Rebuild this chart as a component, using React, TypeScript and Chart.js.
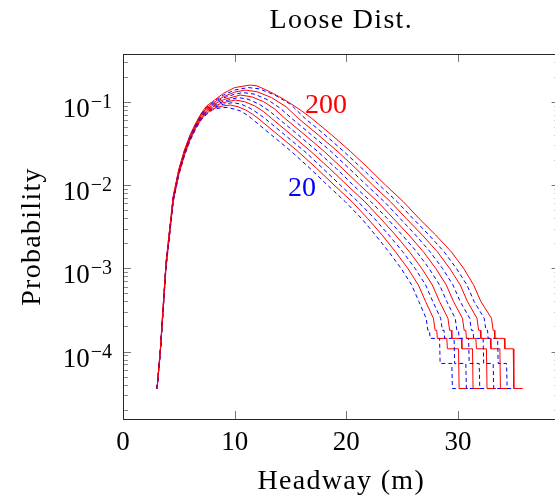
import { useEffect, useRef } from 'react';
import { Chart, registerables } from 'chart.js';

Chart.register(...registerables);

// ---- data ----
const SIZES = [20, 40, 60, 80, 100, 120, 140, 160, 180, 200];

const RISE_X = [3.05, 3.35, 3.85, 4.5, 5, 5.5, 6, 6.5, 7, 7.5, 8, 8.5];
const RISE_Y = [
  [3.6e-5, 1.0e-4, 1.0e-3, 6.31e-3, 0.0132, 0.0224, 0.0339, 0.0468, 0.0603, 0.0708, 0.0794, 0.0832],
  [3.6e-5, 1.01e-4, 1.02e-3, 6.42e-3, 0.0134, 0.0228, 0.0345, 0.0476, 0.0616, 0.0726, 0.0815, 0.086],
  [3.6e-5, 1.02e-4, 1.04e-3, 6.54e-3, 0.0137, 0.0232, 0.0351, 0.0485, 0.0628, 0.0746, 0.0836, 0.0889],
  [3.6e-5, 1.03e-4, 1.06e-3, 6.66e-3, 0.0139, 0.0236, 0.0358, 0.0494, 0.0641, 0.0765, 0.0858, 0.092],
  [3.6e-5, 1.04e-4, 1.07e-3, 6.78e-3, 0.0142, 0.0241, 0.0364, 0.0503, 0.0654, 0.0784, 0.088, 0.0951],
  [3.6e-5, 1.05e-4, 1.09e-3, 6.9e-3, 0.0144, 0.0245, 0.0371, 0.0512, 0.0668, 0.0805, 0.0903, 0.0983],
  [3.6e-5, 1.06e-4, 1.11e-3, 7.02e-3, 0.0147, 0.0249, 0.0377, 0.0521, 0.0682, 0.0826, 0.0926, 0.1017],
  [3.6e-5, 1.07e-4, 1.13e-3, 7.15e-3, 0.015, 0.0254, 0.0384, 0.053, 0.0696, 0.0847, 0.095, 0.1052],
  [3.6e-5, 1.09e-4, 1.15e-3, 7.28e-3, 0.0152, 0.0258, 0.0391, 0.054, 0.071, 0.0869, 0.0975, 0.1087],
  [3.6e-5, 1.1e-4, 1.17e-3, 7.41e-3, 0.0155, 0.0263, 0.0398, 0.0549, 0.0725, 0.0892, 0.1, 0.1124],
];

const PEAK_X = [
  [9.0, 9.4, 10.0, 10.5, 11.0],
  [9.0, 9.6, 10.3, 11.0, 11.6],
  [9.0, 9.85, 10.6, 11.4, 12.1],
  [9.0, 10.05, 10.9, 11.8, 12.6],
  [9.0, 10.3, 11.2, 12.2, 13.1],
  [9.0, 10.5, 11.5, 12.6, 13.6],
  [9.0, 10.0, 10.75, 11.8, 13.0, 14.1],
  [9.0, 10.0, 10.95, 12.0, 13.3, 14.6],
  [9.0, 10.0, 11.2, 12.2, 13.6, 15.0],
  [9.0, 10.0, 11.4, 12.0, 13.0, 14.0, 15.0, 16.0],
];
const PEAK_Y = [
  [0.0851, 0.0851, 0.0813, 0.0776, 0.0708],
  [0.0891, 0.0912, 0.0871, 0.0794, 0.0708],
  [0.0933, 0.0977, 0.0933, 0.0832, 0.0724],
  [0.0977, 0.1047, 0.1, 0.0891, 0.0759],
  [0.1012, 0.1122, 0.1072, 0.0933, 0.0776],
  [0.1059, 0.1202, 0.1148, 0.1, 0.0813],
  [0.1109, 0.123, 0.1288, 0.123, 0.1047, 0.0832],
  [0.1148, 0.1303, 0.138, 0.1318, 0.1122, 0.0871],
  [0.1202, 0.138, 0.1479, 0.1429, 0.1202, 0.0933],
  [0.1259, 0.1479, 0.1585, 0.1549, 0.1349, 0.1148, 0.0955, 0.0776],
];

const DESC_LEVELS = [0.0631, 0.0398, 0.0251, 0.0158, 0.01, 0.00631, 0.00398, 0.00251, 0.00158, 0.001, 6.31e-4, 3.98e-4, 2.51e-4];
const DESC_X = [
  [11.5, 13.3, 15.1, 16.75, 18.3, 19.9, 21.35, 22.6, 23.8, 24.9, 25.85, 26.5, 27.15],
  [12.1, 13.9, 15.7, 17.35, 18.9, 20.5, 21.9, 23.2, 24.4, 25.5, 26.45, 27.1, 27.8],
  [12.7, 14.5, 16.3, 17.9, 19.45, 21.05, 22.5, 23.8, 25.05, 26.15, 27.1, 27.75, 28.45],
  [13.3, 15.1, 16.85, 18.5, 20.05, 21.65, 23.05, 24.4, 25.65, 26.75, 27.7, 28.35, 29.1],
  [13.9, 15.7, 17.45, 19.1, 20.6, 22.2, 23.65, 25.0, 26.3, 27.4, 28.35, 29.0, 29.75],
  [14.5, 16.3, 18.05, 19.65, 21.2, 22.8, 24.2, 25.6, 26.9, 28.0, 28.95, 29.6, 30.4],
  [15.1, 16.9, 18.65, 20.25, 21.8, 23.4, 24.8, 26.2, 27.5, 28.6, 29.55, 30.2, 31.05],
  [15.7, 17.5, 19.25, 20.85, 22.35, 23.95, 25.35, 26.8, 28.15, 29.25, 30.2, 30.85, 31.7],
  [16.3, 18.1, 19.8, 21.4, 22.95, 24.55, 25.95, 27.4, 28.75, 29.85, 30.8, 31.45, 32.35],
  [16.9, 18.7, 20.4, 22.0, 23.5, 25.1, 26.5, 28.0, 29.4, 30.5, 31.4, 32.05, 33.0],
];

const TAIL_X = [
  [27.3, 27.45, 27.5, 28.35, 28.4, 29.45, 29.5, 30.3],
  [27.95, 28.1, 28.15, 29.0, 29.05, 30.05, 30.1, 30.9],
  [28.6, 28.75, 28.8, 29.65, 29.7, 30.7, 30.75, 31.55],
  [29.25, 29.4, 29.45, 30.3, 30.35, 31.3, 31.35, 32.15],
  [29.9, 30.05, 30.1, 30.95, 31.0, 31.9, 31.95, 32.75],
  [30.55, 30.7, 30.75, 31.6, 31.65, 32.55, 32.6, 33.4],
  [31.2, 31.35, 31.4, 32.25, 32.3, 33.15, 33.2, 34.0],
  [31.85, 32.0, 32.05, 32.9, 32.95, 33.75, 33.8, 34.6],
  [32.5, 32.65, 32.7, 33.55, 33.6, 34.35, 34.4, 35.2],
  [33.15, 33.25, 33.3, 34.15, 34.2, 34.95, 35.0, 35.8],
];
const TAIL_Y_EVEN = [1.8e-4, 1.8e-4, 1.44e-4, 1.44e-4, 7.2e-5, 7.2e-5, 3.6e-5, 3.6e-5];
const TAIL_Y_ODD = [1.8e-4, 1.8e-4, 1.44e-4, 1.44e-4, 1.08e-4, 1.08e-4, 3.6e-5, 3.6e-5];

const X_TICKS = [0, 10, 20, 30];
const Y_TICKS = [1e-4, 1e-3, 1e-2, 1e-1];
const Y_TICK_EXP = ['\u22124', '\u22123', '\u22122', '\u22121'];
const Y_MINOR_MANTISSA = [2, 3, 4, 5, 6, 7, 8, 9];
const Y_MINOR_DECADES = [1e-5, 1e-4, 1e-3, 1e-2, 1e-1];

const CURVE_LABELS = [
  { text: '200', x: 18.18, y: 0.0896, color: '#ff0000' },
  { text: '20', x: 16.03, y: 0.00896, color: '#0000ff' },
];

const TITLE = 'Loose Dist.';
const X_TITLE = 'Headway (m)';
const Y_TITLE = 'Probability';

const W = 565;
const H = 503;
const FONT = '"Liberation Serif", "DejaVu Serif", serif';

const axisPlugin = {
  id: 'pgfAxis',
  afterDatasetsDraw(chart: any) {
    const { ctx, chartArea: a } = chart;
    const xs = chart.scales.x;
    const ys = chart.scales.y;
    ctx.save();
    // minor y ticks
    ctx.strokeStyle = '#8c8c8c';
    ctx.lineWidth = 1;
    ctx.beginPath();
    Y_MINOR_DECADES.forEach((d) => {
      Y_MINOR_MANTISSA.forEach((m) => {
        const v = m * d;
        if (v <= ys.min || v >= ys.max) return;
        const p = Math.round(ys.getPixelForValue(v)) + 0.5;
        ctx.moveTo(a.left, p);
        ctx.lineTo(a.left + 5, p);
        ctx.moveTo(a.right, p);
        ctx.lineTo(a.right - 5, p);
      });
    });
    ctx.stroke();
    // major ticks
    ctx.strokeStyle = '#777';
    ctx.beginPath();
    Y_TICKS.forEach((v) => {
      const p = Math.round(ys.getPixelForValue(v)) + 0.5;
      ctx.moveTo(a.left, p);
      ctx.lineTo(a.left + 8, p);
      ctx.moveTo(a.right, p);
      ctx.lineTo(a.right - 8, p);
    });
    X_TICKS.forEach((v) => {
      const p = Math.round(xs.getPixelForValue(v)) + 0.5;
      ctx.moveTo(p, a.bottom);
      ctx.lineTo(p, a.bottom - 8);
      ctx.moveTo(p, a.top);
      ctx.lineTo(p, a.top + 8);
    });
    ctx.stroke();
    // frame
    ctx.strokeStyle = '#262626';
    ctx.strokeRect(a.left + 0.5, a.top + 0.5, a.right - a.left, a.bottom - a.top);

    ctx.fillStyle = '#000';
    // y tick labels
    Y_TICKS.forEach((v, i) => {
      const p = ys.getPixelForValue(v);
      ctx.textAlign = 'right';
      ctx.textBaseline = 'alphabetic';
      ctx.font = `20px ${FONT}`;
      const sup = Y_TICK_EXP[i];
      const w = ctx.measureText(sup).width;
      ctx.fillText(sup, 112, p + 6);
      ctx.font = `27px ${FONT}`;
      ctx.fillText('10', 112 - w - 1, p + 15);
    });
    // x tick labels
    ctx.font = `27px ${FONT}`;
    ctx.textAlign = 'center';
    X_TICKS.forEach((v) => {
      ctx.fillText(String(v), xs.getPixelForValue(v), 450);
    });
    // titles
    const cx = (a.left + a.right) / 2;
    (ctx as any).letterSpacing = '1.3px';
    ctx.font = `28px ${FONT}`;
    ctx.fillText(TITLE, cx, 28);
    ctx.fillText(X_TITLE, cx, 489);
    ctx.save();
    ctx.translate(40, (a.top + a.bottom) / 2);
    ctx.rotate(-Math.PI / 2);
    ctx.fillText(Y_TITLE, 0, 0);
    ctx.restore();
    (ctx as any).letterSpacing = '0px';
    // curve labels
    ctx.font = `28px ${FONT}`;
    ctx.textBaseline = 'middle';
    CURVE_LABELS.forEach((l) => {
      ctx.fillStyle = l.color;
      ctx.fillText(l.text, xs.getPixelForValue(l.x), ys.getPixelForValue(l.y));
    });
    ctx.restore();
  },
};

function App() {
  const ref = useRef<HTMLCanvasElement>(null);
  useEffect(() => {
    if (!ref.current) return;
    const datasets = SIZES.map((n, k) => {
      const pts: { x: number; y: number }[] = [];
      RISE_X.forEach((x, i) => pts.push({ x, y: RISE_Y[k][i] }));
      PEAK_X[k].forEach((x, i) => pts.push({ x, y: PEAK_Y[k][i] }));
      DESC_X[k].forEach((x, i) => pts.push({ x, y: DESC_LEVELS[i] }));
      const ty = k % 2 === 0 ? TAIL_Y_EVEN : TAIL_Y_ODD;
      TAIL_X[k].forEach((x, i) => pts.push({ x, y: ty[i] }));
      const blue = k % 2 === 0;
      return {
        label: String(n),
        data: pts,
        borderColor: blue ? '#0000ff' : '#ff0000',
        borderWidth: 1,
        borderDash: blue ? [4, 3] : [],
        pointRadius: 0,
        tension: 0,
        fill: false,
        order: SIZES.length - 1 - k,
      };
    });
    const chart = new Chart(ref.current, {
      type: 'line',
      data: { datasets },
      options: {
        responsive: false,
        animation: false,
        devicePixelRatio: 1,
        parsing: false,
        layout: { padding: { left: 123, top: 54, right: W - 559.6, bottom: H - 419 } },
        plugins: { legend: { display: false }, tooltip: { enabled: false }, title: { display: false } },
        scales: {
          x: { type: 'linear', min: 0, max: 39.1, display: false },
          y: { type: 'logarithmic', min: 1.55e-5, max: 0.374, display: false },
        },
      } as any,
      plugins: [axisPlugin],
    });
    return () => chart.destroy();
  }, []);
  return (
    <div style={{ position: 'absolute', left: 0, top: 0, width: 555, height: 503, overflow: 'hidden', background: '#fff' }}>
      <canvas ref={ref} width={W} height={H} style={{ width: W, height: H, display: 'block' }} />
    </div>
  );
}

export default App;
